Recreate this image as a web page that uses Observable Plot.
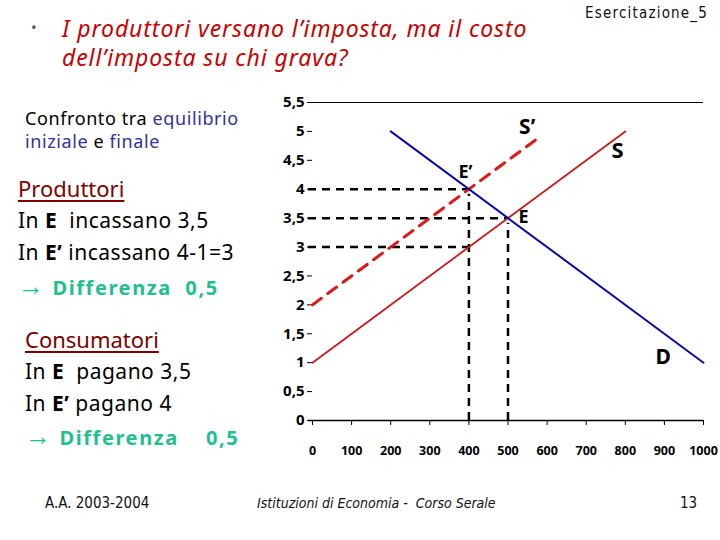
<!DOCTYPE html>
<html>
<head>
<meta charset="utf-8">
<script src="https://cdn.jsdelivr.net/npm/d3@7"></script>
<script src="https://cdn.jsdelivr.net/npm/@observablehq/plot@0.6"></script>
<style>
  html, body { margin: 0; padding: 0; background: #fff; }
  body { width: 720px; height: 540px; position: relative; overflow: hidden;
         font-family: "Comic Sans MS", "Noto Sans", sans-serif; }
  .t { position: absolute; white-space: nowrap; line-height: 1; }
  .blue { color: #333399; }
  .teal { color: #22bf8f; font-weight: bold; }
  .head { color: #800000; text-decoration: underline; text-decoration-thickness: 1.5px; text-underline-offset: 3px; }
  .foot { font-family: "Liberation Sans Narrow", "DejaVu Sans Condensed", sans-serif; color: #111; }
  #chart { position: absolute; left: 270px; top: 85px; }
</style>
</head>
<body>
<div class="t" style="left:31px;top:20px;font-size:15px;color:#555;">•</div>
<div class="t" style="left:62px;top:17px;font-size:23px;letter-spacing:0.9px;color:#cc0000;font-style:italic;">I produttori versano l’imposta, ma il costo</div>
<div class="t" style="left:62px;top:46px;font-size:23px;letter-spacing:0.9px;color:#cc0000;font-style:italic;">dell’imposta su chi grava?</div>
<div class="t foot" style="left:585px;top:6px;font-size:15px;letter-spacing:1.2px;">Esercitazione_5</div>

<div class="t" style="left:25px;top:109px;font-size:18px;letter-spacing:0.6px;">Confronto tra <span class="blue">equilibrio</span></div>
<div class="t" style="left:25px;top:132px;font-size:18px;letter-spacing:0.6px;"><span class="blue">iniziale</span> e <span class="blue">finale</span></div>

<div class="t head" style="left:18px;top:177px;font-size:22px;">Produttori</div>
<div class="t" style="left:18px;top:210px;font-size:21px;letter-spacing:0.5px;">In <b>E</b>&nbsp; incassano 3,5</div>
<div class="t" style="left:18px;top:242px;font-size:21px;letter-spacing:0.5px;">In <b>E’</b> incassano 4-1=3</div>
<div class="t teal" style="left:18px;top:275px;font-size:20px;letter-spacing:1.6px;"><span style="font-size:26px;line-height:0.8;">→</span> Differenza&nbsp; 0,5</div>

<div class="t head" style="left:25px;top:328px;font-size:22px;">Consumatori</div>
<div class="t" style="left:25px;top:361px;font-size:21px;letter-spacing:0.5px;">In <b>E</b>&nbsp; pagano 3,5</div>
<div class="t" style="left:25px;top:393px;font-size:21px;letter-spacing:0.5px;">In <b>E’</b> pagano 4</div>
<div class="t teal" style="left:25px;top:425px;font-size:20px;letter-spacing:1.6px;"><span style="font-size:26px;line-height:0.8;">→</span> Differenza&nbsp;&nbsp;&nbsp; 0,5</div>

<div class="t foot" style="left:45px;top:496px;font-size:15px;">A.A. 2003-2004</div>
<div class="t foot" style="left:257px;top:496px;font-size:14px;font-style:italic;">Istituzioni di Economia -&nbsp; Corso Serale</div>
<div class="t foot" style="left:680px;top:496px;font-size:15px;">13</div>

<div id="chart"></div>

<script>
// Axis ticks
const qTicks = [0, 100, 200, 300, 400, 500, 600, 700, 800, 900, 1000];
const pTicks = [0, 0.5, 1, 1.5, 2, 2.5, 3, 3.5, 4, 4.5, 5, 5.5];

// Curves (quantity, price)
const supplyQ = [0, 800];
const supplyP = [1, 5];
const taxedSupplyQ = [0, 580];
const taxedSupplyP = [2, 4.9];
const demandQ = [200, 1000];
const demandP = [5, 1];

// Dashed guides
const guideP = [4, 3.5, 3];
const guideQ = [400, 500, 400];
const vGuideQ = [400, 500];
const vGuideP = [4, 3.5];

// Labels
const labelText = ["S’", "S", "E’", "E", "D"];
const labelQ = [549, 780, 391, 540, 897];
const labelP = [5.07, 4.67, 4.29, 3.51, 1.09];
const labelStyle = ["normal", "normal", "italic", "italic", "normal"];
const labelSize = [21, 22, 18, 18, 21];

const toPts = (qs, ps) => qs.map((q, i) => ({q, p: ps[i]}));
const hGuides = guideP.map((p, i) => ({p, q: guideQ[i]}));
const vGuides = vGuideQ.map((q, i) => ({q, p: vGuideP[i]}));
const labels = labelText.map((t, i) => ({t, q: labelQ[i], p: labelP[i], s: labelStyle[i], z: labelSize[i]}));

const fmtP = d => String(d).replace(".", ",");
const fmtQ = d => String(d);

const chart = Plot.plot({
  width: 450,
  height: 385,
  marginLeft: 42,
  marginRight: 17,
  marginTop: 17,
  marginBottom: 50,
  style: {fontFamily: "'Comic Sans MS', 'Noto Sans', sans-serif", background: "transparent", overflow: "visible"},
  x: {domain: [0, 1000], ticks: qTicks, label: null},
  y: {domain: [0, 5.5], ticks: pTicks, label: null},
  marks: [
    Plot.ruleY([0, 5.5], {stroke: "#000", strokeWidth: d => d === 0 ? 1.6 : 1.2, insetLeft: -4}),
    Plot.axisY({ticks: pTicks, tickSize: 5, tickPadding: 3, tickFormat: fmtP, fontSize: 15, fontWeight: "bold", stroke: "#000", fill: "#000"}),
    Plot.axisX({ticks: qTicks, tickSize: 5, tickPadding: 21, tickFormat: fmtQ, fontSize: 12.5, fontWeight: "bold", stroke: "#000", fill: "#000"}),
    Plot.ruleY(hGuides, {y: "p", x1: 0, x2: "q", stroke: "#000", strokeWidth: 2.5, strokeDasharray: "8,6", insetLeft: -4}),
    Plot.ruleX(vGuides, {x: "q", y1: 0, y2: "p", stroke: "#000", strokeWidth: 2.5, strokeDasharray: "8,6", insetBottom: -5}),
    Plot.line(toPts(supplyQ, supplyP), {x: "q", y: "p", stroke: "#cc1a1a", strokeWidth: 1.8}),
    Plot.line(toPts(taxedSupplyQ, taxedSupplyP), {x: "q", y: "p", stroke: "#dd1a1a", strokeWidth: 3, strokeDasharray: "11,8"}),
    Plot.line(toPts(demandQ, demandP), {x: "q", y: "p", stroke: "#0a0aa8", strokeWidth: 2}),
    Plot.text(labels, {x: "q", y: "p", text: "t", fontSize: "z", fontStyle: "s", fill: "#000", fontWeight: "bold"})
  ]
});
document.getElementById("chart").appendChild(chart);
</script>
</body>
</html>
